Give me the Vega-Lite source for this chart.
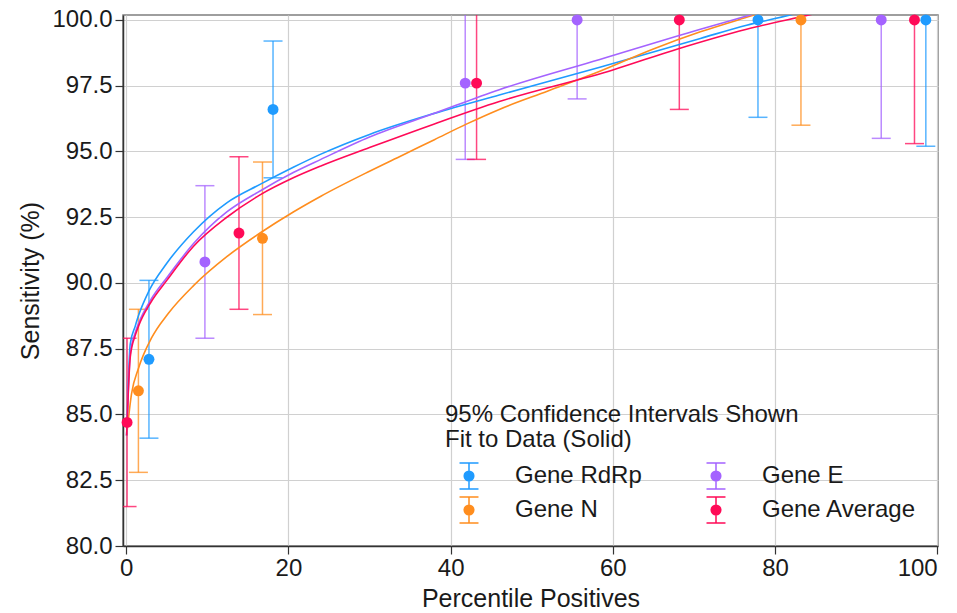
{
  "$schema": "https://vega.github.io/schema/vega-lite/v6.json",
  "autosize": {"type": "none"},
  "width": 815,
  "height": 531,
  "padding": {"left": 123, "top": 15, "right": 19, "bottom": 67},
  "background": "white",
  "config": {
    "font": "Liberation Sans",
    "view": {"stroke": "#7f7f7f", "strokeWidth": 1.5},
    "axis": {
      "labelFont": "Liberation Sans",
      "titleFont": "Liberation Sans",
      "labelFontSize": 24,
      "titleFontSize": 25,
      "titleFontWeight": "normal",
      "labelColor": "#1a1a1a",
      "titleColor": "#1a1a1a",
      "domainColor": "#333333",
      "domainWidth": 1.5,
      "tickColor": "#333333",
      "tickWidth": 1.2,
      "tickSize": 8,
      "gridColor": "#d0d0d0",
      "gridWidth": 1.2
    }
  },
  "datasets": {
    "pts": [
      {"g": "Gene RdRp", "x": 2.8, "y": 87.1, "lo": 84.1, "hi": 90.1},
      {"g": "Gene RdRp", "x": 18.1, "y": 96.6, "lo": 94.0, "hi": 99.2},
      {"g": "Gene RdRp", "x": 77.9, "y": 100, "lo": 96.3, "hi": 100},
      {"g": "Gene RdRp", "x": 98.6, "y": 100, "lo": 95.2, "hi": 100},
      {"g": "Gene N", "x": 1.5, "y": 85.9, "lo": 82.8, "hi": 89.0},
      {"g": "Gene N", "x": 16.8, "y": 91.7, "lo": 88.8, "hi": 94.6},
      {"g": "Gene N", "x": 83.2, "y": 100, "lo": 96.0, "hi": 100},
      {"g": "Gene E", "x": 9.7, "y": 90.8, "lo": 87.9, "hi": 93.7},
      {"g": "Gene E", "x": 41.8, "y": 97.6, "lo": 94.7, "hi": 101},
      {"g": "Gene E", "x": 55.6, "y": 100, "lo": 97.0, "hi": 100},
      {"g": "Gene E", "x": 93.1, "y": 100, "lo": 95.5, "hi": 100},
      {"g": "Gene Average", "x": 0.1, "y": 84.7, "lo": 81.5, "hi": 87.9},
      {"g": "Gene Average", "x": 13.9, "y": 91.9, "lo": 89.0, "hi": 94.8},
      {"g": "Gene Average", "x": 43.2, "y": 97.6, "lo": 94.7, "hi": 101},
      {"g": "Gene Average", "x": 68.2, "y": 100, "lo": 96.6, "hi": 100},
      {"g": "Gene Average", "x": 97.2, "y": 100, "lo": 95.3, "hi": 100}
    ],
    "fit": [
      {"g": "Gene RdRp", "x": 0.05, "y": 84.2},
      {"g": "Gene RdRp", "x": 0.5, "y": 87.7},
      {"g": "Gene RdRp", "x": 1.1, "y": 88.35},
      {"g": "Gene RdRp", "x": 1.5, "y": 88.75},
      {"g": "Gene RdRp", "x": 2.8, "y": 89.7},
      {"g": "Gene RdRp", "x": 5, "y": 90.75},
      {"g": "Gene RdRp", "x": 8.3, "y": 91.95},
      {"g": "Gene RdRp", "x": 12.4, "y": 93.05},
      {"g": "Gene RdRp", "x": 16.5, "y": 93.75},
      {"g": "Gene RdRp", "x": 20.6, "y": 94.4},
      {"g": "Gene RdRp", "x": 24, "y": 94.9},
      {"g": "Gene RdRp", "x": 30, "y": 95.65},
      {"g": "Gene RdRp", "x": 38, "y": 96.45},
      {"g": "Gene RdRp", "x": 46, "y": 97.15},
      {"g": "Gene RdRp", "x": 58.4, "y": 98.2},
      {"g": "Gene RdRp", "x": 70.8, "y": 99.3},
      {"g": "Gene RdRp", "x": 76.5, "y": 99.8},
      {"g": "Gene RdRp", "x": 82, "y": 100.2},
      {"g": "Gene RdRp", "x": 90, "y": 100.9},
      {"g": "Gene N", "x": 0.05, "y": 84.2},
      {"g": "Gene N", "x": 0.66, "y": 85.8},
      {"g": "Gene N", "x": 1.5, "y": 86.75},
      {"g": "Gene N", "x": 3.1, "y": 87.9},
      {"g": "Gene N", "x": 5.2, "y": 88.85},
      {"g": "Gene N", "x": 8.3, "y": 89.9},
      {"g": "Gene N", "x": 12.4, "y": 91.0},
      {"g": "Gene N", "x": 16.5, "y": 91.9},
      {"g": "Gene N", "x": 20.6, "y": 92.7},
      {"g": "Gene N", "x": 24, "y": 93.3},
      {"g": "Gene N", "x": 30, "y": 94.25},
      {"g": "Gene N", "x": 34, "y": 94.85},
      {"g": "Gene N", "x": 38, "y": 95.45},
      {"g": "Gene N", "x": 42, "y": 96.05},
      {"g": "Gene N", "x": 46, "y": 96.6},
      {"g": "Gene N", "x": 52, "y": 97.3},
      {"g": "Gene N", "x": 58.4, "y": 98.05},
      {"g": "Gene N", "x": 65, "y": 98.9},
      {"g": "Gene N", "x": 70.8, "y": 99.55},
      {"g": "Gene N", "x": 77, "y": 100.15},
      {"g": "Gene N", "x": 85, "y": 100.9},
      {"g": "Gene E", "x": 0.05, "y": 84.2},
      {"g": "Gene E", "x": 0.5, "y": 87.3},
      {"g": "Gene E", "x": 1.1, "y": 88.1},
      {"g": "Gene E", "x": 1.5, "y": 88.45},
      {"g": "Gene E", "x": 3, "y": 89.35},
      {"g": "Gene E", "x": 5, "y": 90.2},
      {"g": "Gene E", "x": 8.3, "y": 91.5},
      {"g": "Gene E", "x": 12.4, "y": 92.7},
      {"g": "Gene E", "x": 16.5, "y": 93.5},
      {"g": "Gene E", "x": 20.6, "y": 94.2},
      {"g": "Gene E", "x": 24, "y": 94.7},
      {"g": "Gene E", "x": 30, "y": 95.55},
      {"g": "Gene E", "x": 38, "y": 96.45},
      {"g": "Gene E", "x": 46, "y": 97.35},
      {"g": "Gene E", "x": 58.4, "y": 98.5},
      {"g": "Gene E", "x": 70.8, "y": 99.65},
      {"g": "Gene E", "x": 76.5, "y": 100.15},
      {"g": "Gene E", "x": 85, "y": 100.9},
      {"g": "Gene Average", "x": 0.05, "y": 84.2},
      {"g": "Gene Average", "x": 0.5, "y": 87.2},
      {"g": "Gene Average", "x": 1.1, "y": 88.0},
      {"g": "Gene Average", "x": 1.5, "y": 88.35},
      {"g": "Gene Average", "x": 3, "y": 89.25},
      {"g": "Gene Average", "x": 5, "y": 90.1},
      {"g": "Gene Average", "x": 8.3, "y": 91.4},
      {"g": "Gene Average", "x": 12.4, "y": 92.5},
      {"g": "Gene Average", "x": 16.5, "y": 93.35},
      {"g": "Gene Average", "x": 20.6, "y": 94.0},
      {"g": "Gene Average", "x": 24, "y": 94.45},
      {"g": "Gene Average", "x": 30, "y": 95.15},
      {"g": "Gene Average", "x": 38, "y": 96.05},
      {"g": "Gene Average", "x": 46, "y": 96.9},
      {"g": "Gene Average", "x": 60, "y": 98.1},
      {"g": "Gene Average", "x": 68, "y": 98.9},
      {"g": "Gene Average", "x": 76.5, "y": 99.65},
      {"g": "Gene Average", "x": 84.3, "y": 100.2},
      {"g": "Gene Average", "x": 92, "y": 100.75}
    ]
  },
  "encoding": {
    "x": {
      "field": "x", "type": "quantitative",
      "scale": {"domain": [-0.4, 100.1], "nice": false, "zero": false},
      "axis": {"title": "Percentile Positives", "values": [0, 20, 40, 60, 80, 100], "format": "d", "labelPadding": 2, "titlePadding": 6}
    },
    "color": {
      "field": "g", "type": "nominal",
      "scale": {
        "domain": ["Gene RdRp", "Gene N", "Gene E", "Gene Average"],
        "range": ["#1f9bff", "#ff8d1e", "#a463ff", "#ff0a57"]
      },
      "legend": {
        "title": ["95% Confidence Intervals Shown", "Fit to Data (Solid)"],
        "orient": "none",
        "legendX": 322,
        "legendY": 388,
        "columns": 2,
        "symbolType": "M-0.73,-1H0.73M0,-1V1M-0.73,1H0.73M0.37,0A0.37,0.37 0 1,1 -0.37,0A0.37,0.37 0 1,1 0.37,0Z",
        "symbolSize": 676,
        "symbolStrokeWidth": 1.5,
        "symbolOffset": 10,
        "labelFont": "Liberation Sans",
        "titleFont": "Liberation Sans",
        "labelFontSize": 24,
        "titleFontSize": 24,
        "titleFontWeight": "normal",
        "titleLineHeight": 25,
        "titleColor": "#1a1a1a",
        "labelColor": "#1a1a1a",
        "labelOffset": 32,
        "columnPadding": 50,
        "rowPadding": 2,
        "titlePadding": 10,
        "labelLimit": 300,
        "titleLimit": 500,
        "encode": {
          "symbols": {
            "update": {
              "stroke": {"scale": "color", "field": "value"},
              "fill": {"scale": "color", "field": "value"},
              "opacity": {"value": 1}
            }
          }
        }
      }
    }
  },
  "layer": [
    {
      "data": {"name": "pts"},
      "mark": {"type": "rule", "strokeWidth": 1.5, "opacity": 0.75, "clip": true},
      "encoding": {
        "y": {"field": "lo", "type": "quantitative", "scale": {"domain": [80, 100.19], "nice": false, "zero": false},
          "axis": {"title": "Sensitivity (%)", "values": [80, 82.5, 85, 87.5, 90, 92.5, 95, 97.5, 100], "format": ".1f", "labelPadding": 3, "titlePadding": 8}},
        "y2": {"field": "hi"}
      }
    },
    {
      "data": {"name": "pts"},
      "mark": {"type": "tick", "orient": "horizontal", "size": 19, "thickness": 1.5, "opacity": 0.75, "clip": true},
      "encoding": {"y": {"field": "lo", "type": "quantitative"}}
    },
    {
      "data": {"name": "pts"},
      "transform": [{"filter": "datum.hi < 100"}],
      "mark": {"type": "tick", "orient": "horizontal", "size": 19, "thickness": 1.5, "opacity": 0.75, "clip": true},
      "encoding": {"y": {"field": "hi", "type": "quantitative"}}
    },
    {
      "data": {"name": "fit"},
      "mark": {"type": "line", "strokeWidth": 1.6, "clip": true, "interpolate": "monotone"},
      "encoding": {"y": {"field": "y", "type": "quantitative"}}
    },
    {
      "data": {"name": "pts"},
      "mark": {"type": "circle", "size": 120, "opacity": 1},
      "encoding": {"y": {"field": "y", "type": "quantitative"}}
    }
  ]
}
